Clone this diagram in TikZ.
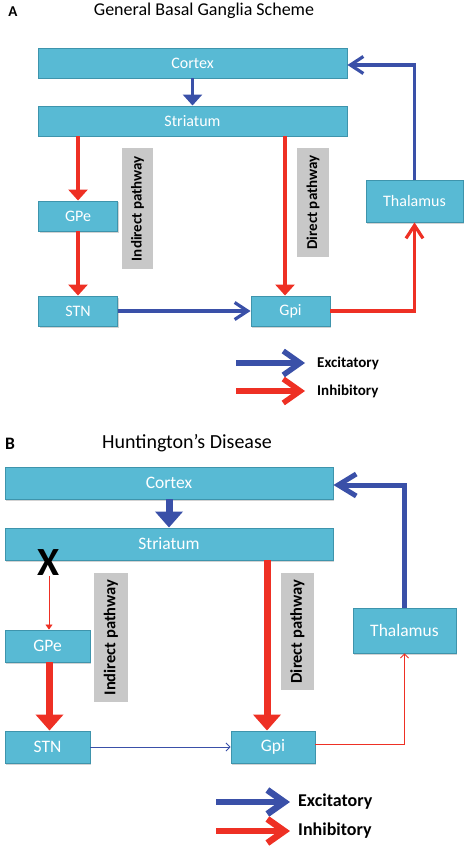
\documentclass[tikz,border=0pt]{standalone}
\usepackage{fontspec}
\setmainfont{Carlito}
\usetikzlibrary{arrows.meta,shadows}
\definecolor{boxfill}{RGB}{88,186,212}
\definecolor{boxline}{RGB}{62,148,172}
\definecolor{exc}{RGB}{58,80,168}
\definecolor{inh}{RGB}{238,48,36}
\definecolor{grayfill}{RGB}{200,200,200}
\begin{document}
\begin{tikzpicture}[x=1pt,y=-1pt,
  region/.style={draw=boxline, line width=0.9pt, fill=boxfill, text=white, inner sep=0pt,
    drop shadow={shadow xshift=1.2pt, shadow yshift=-1.5pt, opacity=0.35}},
  regA/.style={region, font=\fontsize{16}{18}\selectfont},
  regB/.style={region, font=\fontsize{17.5}{20}\selectfont},
  pathbox/.style={fill=grayfill, inner sep=0pt, rotate=90},
  pathA/.style={pathbox, font=\bfseries\fontsize{15}{18}\selectfont},
  pathB/.style={pathbox, font=\bfseries\fontsize{16.5}{19}\selectfont},
  legA/.style={anchor=west, inner sep=0pt, font=\bfseries\fontsize{15}{18}\selectfont},
  legB/.style={anchor=west, inner sep=0pt, font=\bfseries\fontsize{18}{21}\selectfont},
  fillA/.style={line width=3.5pt, -{Triangle[width=19pt,length=11pt]}},
  barbA/.style={line width=3.2pt, -{Straight Barb[length=13pt,width=17pt]}},
  legarrA/.style={line width=5.5pt, -{Straight Barb[length=17pt,width=24pt]}},
  fillB/.style={line width=7pt, -{Triangle[width=27pt,length=16pt]}},
  barbBthick/.style={line width=5pt, -{Straight Barb[length=18pt,width=22pt]}},
  thinfill/.style={line width=0.8pt, -{Triangle[width=7pt,length=5pt]}},
  thinbarb/.style={line width=0.8pt, -{Straight Barb[length=4pt,width=8pt]}},
  legarrB/.style={line width=6.5pt, -{Straight Barb[length=17pt,width=24pt]}}
]
\useasboundingbox (0,0) rectangle (469,850);

% ---------------- Panel A ----------------
\node[inner sep=0pt, font=\bfseries\fontsize{15}{17}\selectfont] (labA) at (13,11.5) {A};
\node[inner sep=0pt, font=\fontsize{18}{21}\selectfont] (titA) at (204,11) {General Basal Ganglia Scheme};

\node[regA, minimum width=309pt, minimum height=30pt] (cortexA) at (192.5,63) {Cortex};
\node[regA, minimum width=309pt, minimum height=30pt] (striatumA) at (192.5,121) {Striatum};
\node[regA, minimum width=79pt, minimum height=30pt] (gpeA) at (78,216) {GPe};
\node[regA, minimum width=79pt, minimum height=30pt] (stnA) at (78,311) {STN};
\node[regA, minimum width=79pt, minimum height=30pt] (gpiA) at (290.5,311) {Gpi};
\node[regA, minimum width=97pt, minimum height=42pt] (thalA) at (414.5,201) {Thalamus};

\node[pathA, minimum width=121pt, minimum height=31pt] (indA) at (137.5,208.5) {Indirect pathway};
\node[pathA, minimum width=109pt, minimum height=32pt] (dirA) at (313,202.5) {Direct pathway};

\coordinate (dA) at ([xshift=-5.5pt]gpiA.north);
\draw[fillA, exc] (cortexA) -- (striatumA);
\draw[fillA, inh] (striatumA.south -| gpeA.north) -- (gpeA.north);
\draw[fillA, inh] (gpeA) -- (stnA);
\draw[fillA, inh] (striatumA.south -| dA) -- (dA);
\draw[barbA, exc] (stnA) -- (gpiA);
\draw[barbA, inh] (gpiA.east) -| (thalA.south);
\draw[barbA, exc] (thalA.north) |- ([yshift=-2pt]cortexA.east);

\node[legA] (excA) at (317,363) {Excitatory};
\node[legA] (inhA) at (317,391) {Inhibitory};
\coordinate (lgA1) at (236,363);
\coordinate (lgA2) at (236,391);
\draw[legarrA, exc] (lgA1) -- ([xshift=-12pt]excA.west);
\draw[legarrA, inh] (lgA2) -- ([xshift=-12pt]inhA.west);

% ---------------- Panel B ----------------
\node[inner sep=0pt, font=\bfseries\fontsize{17.5}{19}\selectfont] (labB) at (10,443.5) {B};
\node[inner sep=0pt, font=\fontsize{20}{23}\selectfont] (titB) at (187,443) {Huntington’s Disease};

\node[regB, minimum width=328pt, minimum height=32pt] (cortexB) at (169,483) {Cortex};
\node[regB, minimum width=328pt, minimum height=32pt] (striatumB) at (169,544) {Striatum};
\node[regB, minimum width=85pt, minimum height=32pt] (gpeB) at (47.5,646) {GPe};
\node[regB, minimum width=85pt, minimum height=32pt] (stnB) at (47.5,747) {STN};
\node[regB, minimum width=84pt, minimum height=32pt] (gpiB) at (273,747) {Gpi};
\node[regB, minimum width=103pt, minimum height=45pt] (thalB) at (404.5,630.5) {Thalamus};

\node[pathB, minimum width=129pt, minimum height=34pt] (indB) at (111,637.5) {Indirect pathway};
\node[pathB, minimum width=117pt, minimum height=33pt] (dirB) at (297.5,631.5) {Direct pathway};

\node[inner sep=0pt, font=\bfseries\fontsize{40}{40}\selectfont] (xB) at (49,563) {X};

\coordinate (dB) at ([xshift=-6pt]gpiB.north);
\draw[fillB, exc] (cortexB) -- (striatumB);
\draw[thinfill, inh] (xB.south) -- (xB.south |- gpeB.north);
\draw[fillB, inh] ([xshift=2pt]gpeB.south) -- ([xshift=2pt]stnB.north);
\draw[fillB, inh] (striatumB.south -| dB) -- (dB);
\draw[thinbarb, exc] (stnB) -- (gpiB);
\draw[thinbarb, inh] ([yshift=3pt]gpiB.east) -| (thalB.south);
\draw[barbBthick, exc] (thalB.north) |- ([yshift=-2pt]cortexB.east);

\node[legB] (excB) at (298,802) {Excitatory};
\node[legB] (inhB) at (298,831) {Inhibitory};
\coordinate (lgB1) at (216,802);
\coordinate (lgB2) at (216,831);
\draw[legarrB, exc] (lgB1) -- ([xshift=-8pt]excB.west);
\draw[legarrB, inh] (lgB2) -- ([xshift=-8pt]inhB.west);
\end{tikzpicture}
\end{document}
